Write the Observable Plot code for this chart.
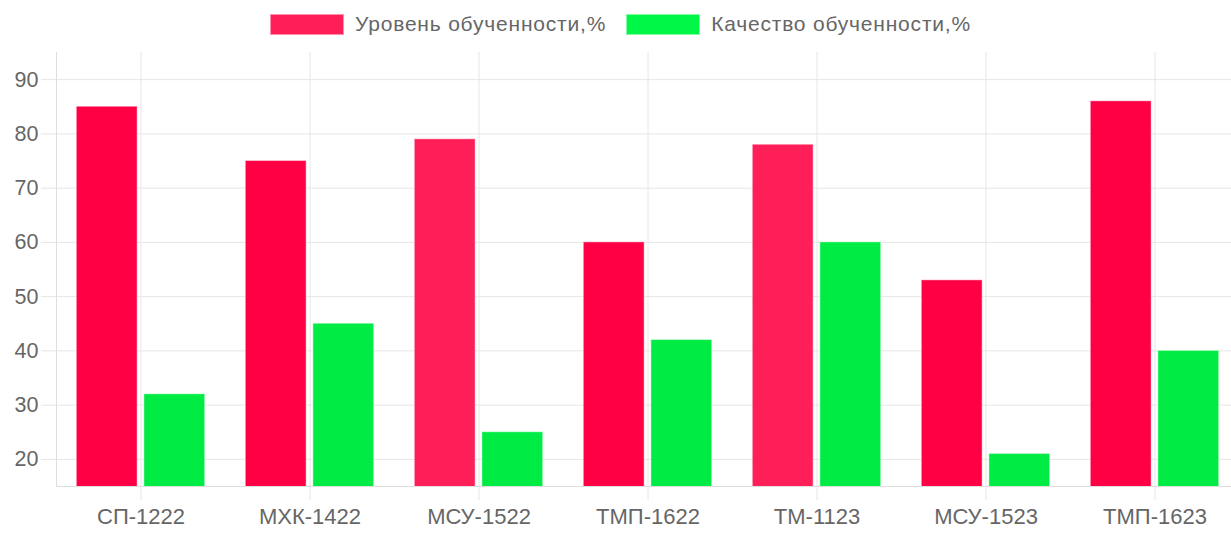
<!DOCTYPE html>
<html><head><meta charset="utf-8">
<script src="https://cdn.jsdelivr.net/npm/d3@7"></script>
<script src="https://cdn.jsdelivr.net/npm/@observablehq/plot@0.6"></script>
<style>
body{margin:0;background:#fff;font-family:"Liberation Sans",Arial,sans-serif;overflow:hidden;}
#legend{width:1231px;height:45px;display:flex;justify-content:center;align-items:flex-start;padding-left:10px;box-sizing:border-box;}
.item{display:flex;align-items:center;margin:12px 10px 0 10px;font-size:21px;letter-spacing:0.8px;color:#666;}
.box{width:72px;height:19px;margin-right:11px;border:1px solid rgba(255,255,255,0.5);}
#chart svg{max-width:none !important;}
</style></head><body>
<div id="legend"></div><div id="chart"></div>
<script>
const groups = ["СП-1222","МХК-1422","МСУ-1522","ТМП-1622","ТМ-1123","МСУ-1523","ТМП-1623"];
const seriesNames = ["Уровень обученности,%","Качество обученности,%"];
const levelValues = [85,75,79,60,78,53,86];
const qualityValues = [32,45,25,42,60,21,40];
const yTicks = [20,30,40,50,60,70,80,90];
const yDomain = [15,95];
const levelColors = ["#ff0044","#ff0044","#ff1f58","#ff0044","#ff1f58","#ff0044","#ff0044"];
const qualityColor = "#00ec44";
const legendColors = ["#ff1f58","#00f748"];

const data = groups.flatMap((g,i)=>[
  {group:g, series:seriesNames[0], value:levelValues[i], color:levelColors[i]},
  {group:g, series:seriesNames[1], value:qualityValues[i], color:qualityColor}
]);

const legend = document.getElementById("legend");
seriesNames.forEach((s,i)=>{
  const it = document.createElement("div"); it.className="item";
  const b = document.createElement("div"); b.className="box"; b.style.background=legendColors[i];
  const t = document.createElement("span"); t.textContent=s;
  it.appendChild(b); it.appendChild(t); legend.appendChild(it);
});

const grid = "#e6e6e6";
const chart = Plot.plot({
  width:1239, height:489,
  marginTop:7, marginBottom:48, marginLeft:56, marginRight:0,
  style:{fontFamily:'"Liberation Sans", Arial, sans-serif', fontSize:"21.5px", color:"#666", background:"#fff", maxWidth:"none"},
  fx:{domain:groups, padding:0, round:false, label:null},
  x:{domain:seriesNames, paddingInner:0.1, paddingOuter:0.3, round:false, axis:null},
  y:{domain:yDomain, label:null},
  color:{type:"identity"},
  marks:[
    Plot.gridY(yTicks,{stroke:grid, strokeOpacity:1}),
    Plot.gridFx({stroke:grid, strokeOpacity:1}),
    Plot.axisY(yTicks,{tickSize:15, tickPadding:3, stroke:grid, strokeOpacity:1, fill:"#666", label:null}),
    Plot.axisFx({anchor:"bottom", tickSize:14, tickPadding:8, stroke:grid, strokeOpacity:1, fill:"#666", fontSize:22, label:null}),
    Plot.ruleY([yDomain[0]],{stroke:"#dedede"}),
    Plot.frame({anchor:"left", facetAnchor:"left", stroke:"#dedede"}),
    Plot.barY(data,{fx:"group", x:"series", y:"value", fill:"color", stroke:"#fff", strokeOpacity:0.45, strokeWidth:1, clip:true})
  ]
});
document.getElementById("chart").appendChild(chart);
</script>
</body></html>
